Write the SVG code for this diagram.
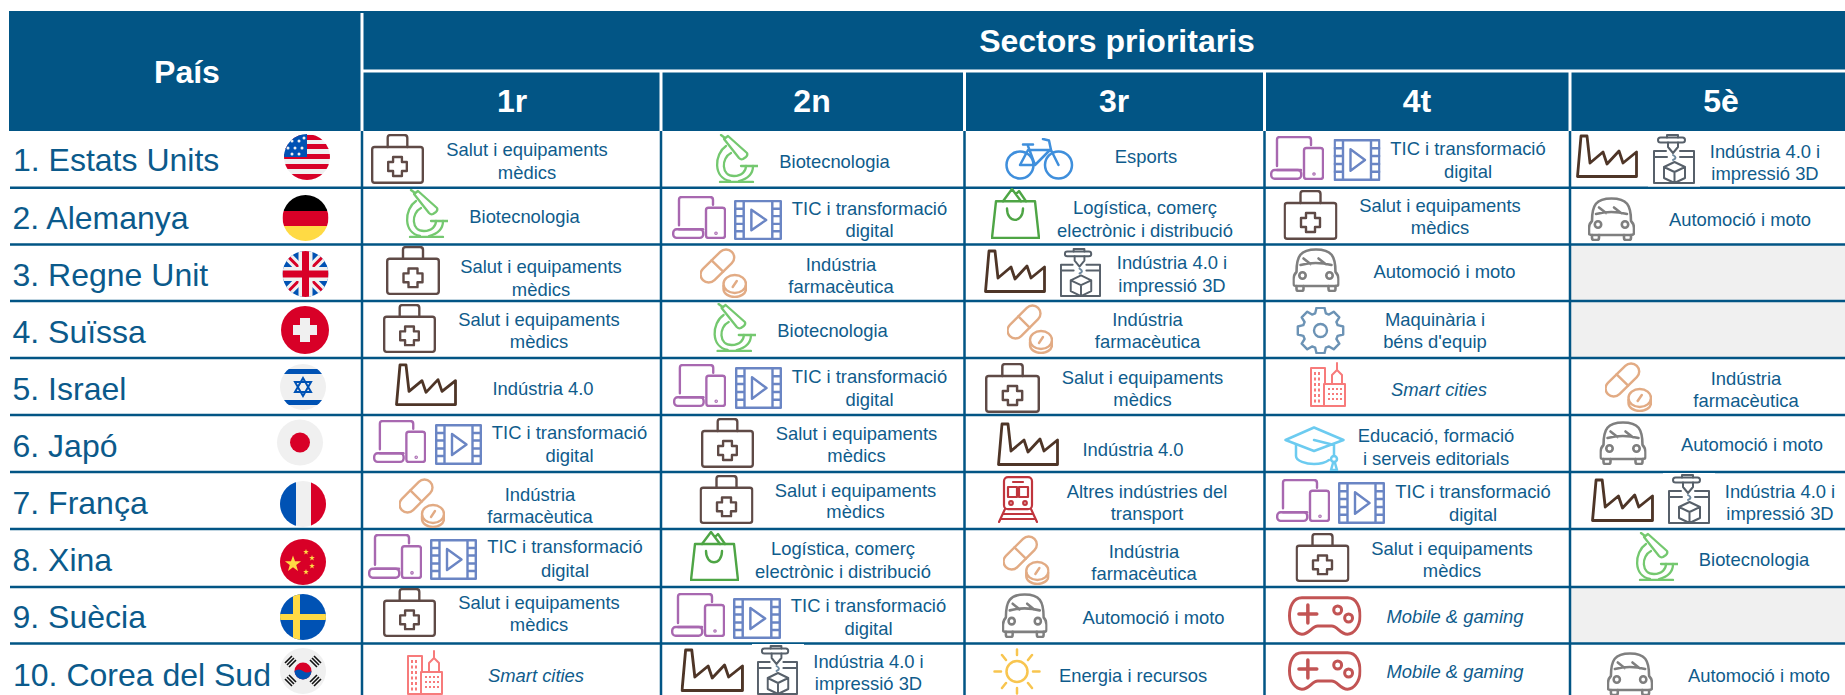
<svg xmlns="http://www.w3.org/2000/svg" width="1845" height="695" viewBox="0 0 1845 695">
<style>
text{font-family:"Liberation Sans",Arial,sans-serif}
.h{font-size:32px;font-weight:700;fill:#fff;text-anchor:middle}
.p{font-size:32px;fill:#0b5a8b}
.c{font-size:18.4px;fill:#0f5c8c;text-anchor:middle}
.i{font-style:italic}
.ic{fill:none;stroke-linecap:round;stroke-linejoin:round}
</style>
<defs>
<clipPath id="fc"><circle cx="0" cy="0" r="23"/></clipPath>
<polygon id="st" points="0,-10 2.4,-3.1 9.5,-3.1 3.8,1.2 5.9,8.1 0,3.8 -5.9,8.1 -3.8,1.2 -9.5,-3.1 -2.4,-3.1"/>
<symbol id="med" viewBox="0 0 54 50" preserveAspectRatio="none"><g class="ic" stroke="#5f4a46" stroke-width="2.4"><rect x="1.2" y="13" width="51.6" height="35.8" rx="2.5"/><path d="M17 13V4q0-3 3-3h14q3 0 3 3v9"/><path d="M22.5 23h9v5h5v9h-5v5h-9v-5h-5v-9h5z"/></g></symbol>
<symbol id="micro" viewBox="0 0 43 49" preserveAspectRatio="none"><g class="ic" stroke="#74c86f" stroke-width="2.3"><path d="M9 5L13 2 32 19Q33 21 31 23L28 25Q26 26 24 24Z"/><path d="M6 1L10 4"/><path d="M11 12C-1 20 -2 44 15 47"/><path d="M24 47C32 45 38 40 38 32"/><path d="M16 19C6 24 6 42 19 42C27 42 31 37 31 32"/><path d="M26 32H43M5 48H38"/></g></symbol>
<symbol id="dev" viewBox="0 0 54 44" preserveAspectRatio="none"><g class="ic" stroke="#a868b0" stroke-width="2.4"><path d="M7 30V4q0-3 3-3H38q3 0 3 3V9"/><rect x="1.200" y="34" width="30" height="8.800" rx="3.500"/><path d="M7 34H31"/><rect x="34" y="12" width="19" height="31" rx="2.500"/><circle cx="44" cy="38" r=".6"/></g></symbol>
<symbol id="film" viewBox="0 0 47 41" preserveAspectRatio="none"><g class="ic" stroke="#6a85c4" stroke-width="2.400"><rect x="1.200" y="1.200" width="44.600" height="38.600"/><path d="M9.500 1.200V39.800M37.500 1.200V39.800M1.200 9H9.500M1.200 16.500H9.500M1.200 24.500H9.500M1.200 32H9.500M37.500 9H45.800M37.500 16.500H45.800M37.500 24.500H45.800M37.500 32H45.800"/><path d="M17 10L31.500 20.500 17 31Z"/></g></symbol>
<symbol id="fac" viewBox="0 0 62 44" preserveAspectRatio="none"><path class="ic" stroke="#4e3527" stroke-width="2.800" d="M1.500 42.500L5 2H11L14 29 27 18 31 30 43 17 47 29 60.500 18V42.500Z"/></symbol>
<symbol id="prn" viewBox="0 0 42 50" preserveAspectRatio="none"><g class="ic" stroke="#57606a" stroke-width="2"><rect x="5" y="3.500" width="27" height="5" rx="2.500"/><path d="M14 3.500V1H25V3.500"/><path d="M15 8.500V13L20 19 25 13V8.500"/><path d="M13 17H1V49H41V17H27"/><path d="M1 23H14M27 23H41"/><path d="M20 21Q25 24 20 26" stroke="#6f8aa0"/><path d="M21.500 28L32 33V44L21.500 49 11 44V33ZM11 33L21.500 38 32 33M21.500 38V49"/></g></symbol>
<symbol id="pill" viewBox="0 0 46 50" preserveAspectRatio="none"><g class="ic" stroke="#e2ab84" stroke-width="2.400"><g transform="rotate(45 17 18)"><rect x="9" y="-2" width="16" height="40" rx="8"/><path d="M9 18H25"/></g><ellipse cx="34" cy="36" rx="11" ry="9"/><path d="M23 38V41C23 46 29 49 34 49S45 46 45 41V38"/><path d="M32 39L36 33"/></g></symbol>
<symbol id="bag" viewBox="0 0 49 50" preserveAspectRatio="none"><g class="ic" stroke="#4ea545" stroke-width="2.400"><path d="M5 13H44L48 49H1Z"/><path d="M12 13L21 1 30 13M25 6L28 3 35 13"/><path d="M16 20C16 35 32 35 32 20"/></g></symbol>
<symbol id="car" viewBox="0 0 47 44" preserveAspectRatio="none"><g class="ic" stroke="#7f7f7f" stroke-width="2.600"><path d="M4 24C4 8 8 1.500 23.500 1.500S43 8 43 24C45 26 46 28 46 31V36Q46 38 43 38H4Q1 38 1 36V31C1 28 2 26 4 24Z"/><path d="M8 17Q23 13 39 17M11 10.500L18 16M26 10.500L33 16"/><circle cx="10" cy="27.500" r="3.200"/><circle cx="37" cy="27.500" r="3.200"/><path d="M4 38V41q0 2 2 2h3q2 0 2-2V38M36 38V41q0 2 2 2h3q2 0 2-2V38"/></g></symbol>
<symbol id="bike" viewBox="0 0 69 42" preserveAspectRatio="none"><g class="ic" stroke="#3f8fdc" stroke-width="2.500"><circle cx="15" cy="27" r="13.500"/><circle cx="53.500" cy="27" r="13.500"/><path d="M15 27L23 12H45L30 27ZM23 8L30 27M38 1L44 2.500 46 12 53.500 27M18 6.500H28"/></g></symbol>
<symbol id="gear" viewBox="-25.500 -23.500 51 47" preserveAspectRatio="none"><g class="ic" stroke="#6c93b5" stroke-width="2.400"><path d="M17.200-5.300L22.700-4V4L17.200 5.300 15.900 8.500 18.800 13.200 13.200 18.800 8.500 15.900 5.300 17.200 4 22.700H-4L-5.300 17.200-8.500 15.900-13.200 18.800-18.800 13.200-15.900 8.500-17.200 5.300-22.700 4V-4L-17.200-5.300-15.900-8.500-18.800-13.200-13.200-18.800-8.500-15.900-5.300-17.200-4-22.700H4L5.300-17.200 8.500-15.900 13.200-18.800 18.800-13.200 15.900-8.500Z"/><circle r="6.500"/></g></symbol>
<symbol id="city" viewBox="0 0 36 45" preserveAspectRatio="none"><g class="ic" stroke="#f77b7b" stroke-width="2"><path d="M14 44H1V6H15V22"/><rect x="14" y="22" width="21" height="22"/><path d="M22 22V13L27 8 32 13V22M27 8V1"/><path stroke-dasharray="3 2.500" stroke-linecap="butt" d="M5 10V41M9 10V41"/><path stroke-dasharray="2 2" stroke-linecap="butt" d="M18 27H32M18 32H32M18 37H32"/></g></symbol>
<symbol id="cap" viewBox="0 0 61 45" preserveAspectRatio="none"><g class="ic" stroke="#6ccbf0" stroke-width="2.500"><path d="M1.500 14L30 1.500 59.500 14 30 25Z"/><path d="M12 19V30C12 35 22 38 30 38C36 38 41 37 45 34"/><path d="M30 14L50 19V30"/><circle cx="50" cy="33" r="3"/><path d="M49 37L47 44H53L51 37"/></g></symbol>
<symbol id="train" viewBox="0 0 40 47" preserveAspectRatio="none"><g class="ic" stroke="#c0353d" stroke-width="2.200"><rect x="6" y="1.200" width="28" height="32" rx="4"/><rect x="10" y="11" width="9" height="10"/><rect x="21" y="11" width="9" height="10"/><path d="M15 6H25"/><circle cx="13" cy="27" r="1.800"/><circle cx="27" cy="27" r="1.800"/><path d="M7 33L1 46M33 33L39 46M5 38H35M3 43H37"/></g></symbol>
<symbol id="pad" viewBox="0 0 74 40" preserveAspectRatio="none"><g class="ic" stroke="#c25454" stroke-width="3"><path d="M14 1.800H60C69 1.800 72.500 11 72.500 20C72.500 31 66 38.200 60 38.200C52 38.200 50 30 44 30H30C24 30 22 38.200 14 38.200C8 38.200 1.500 31 1.500 20C1.500 11 5 1.800 14 1.800Z"/><path d="M20 9V27M11 18H29" stroke-width="3.500"/><circle cx="50" cy="14" r="4"/><circle cx="61" cy="22" r="4"/></g></symbol>
<symbol id="sun" viewBox="0 0 48 47" preserveAspectRatio="none"><g class="ic" stroke="#f8c54f" stroke-width="2.500"><circle cx="24" cy="23.500" r="10.500"/><path d="M24 1.500V7M24 40V45.500M1.500 23.500H8M40 23.500H46.500M9 7L13 12M35 35L39 40M39 7L35 12M13 35L9 40"/></g></symbol>
</defs>
<g id="table-header">
<rect x="9" y="11" width="1836" height="120" fill="#025585"/>
<g stroke="#fff" fill="none"><path stroke-width="3" d="M362 13V131M362 71H1845M661 72V131M964.500 72V131M1264.500 72V131M1570 72V131"/></g>
<text class="h" x="187" y="83">País</text>
<text class="h" x="1117" y="52">Sectors prioritaris</text>
<text class="h" x="512" y="112">1r</text>
<text class="h" x="812" y="112">2n</text>
<text class="h" x="1114" y="112">3r</text>
<text class="h" x="1417" y="112">4t</text>
<text class="h" x="1721" y="112">5è</text>
</g>
<g id="empty-cells" fill="#f0f0f0">
<rect x="1571" y="245" width="274" height="113"/>
<rect x="1571" y="588" width="274" height="56"/>
</g>
<g id="grid" stroke="#025585" stroke-width="2.500" fill="none">
<path d="M10 187.700H1845M10 244.500H1845M10 301H1845M10 358H1845M10 415H1845M10 472H1845M10 529H1845M10 587H1845M10 643.500H1845"/>
<path d="M362 131V695M661 131V695M964.500 131V695M1264.500 131V695M1570 131V695"/>
</g>
<g id="patches" fill="#fff">
<rect x="1648" y="132" width="52" height="54.500"/>
<rect x="1663" y="473" width="52" height="54"/>
<rect x="752" y="644" width="52" height="51"/>
</g>
<g id="row-1">
<text class="p" x="13" y="170.500">1. Estats Units</text>
<g id="flag-us" transform="translate(307 157)"><g clip-path="url(#fc)"><rect x="-23" y="-23" width="46" height="46" fill="#f0f0f0"/><path fill="#d80027" d="M-23-22H23V-17H-23ZM-23-13H23V-8H-23ZM-23-3H23V2H-23ZM-23 7H23V12H-23ZM-23 17H23V23H-23Z"/><rect x="-23" y="-23" width="23" height="23" fill="#0052b4"/><g fill="#f0f0f0"><circle cx="-15" cy="-16" r="1.500"/><circle cx="-8" cy="-16" r="1.500"/><circle cx="-3" cy="-19" r="1.500"/><circle cx="-19" cy="-9" r="1.500"/><circle cx="-12" cy="-9" r="1.500"/><circle cx="-5" cy="-9" r="1.500"/><circle cx="-15" cy="-3" r="1.500"/><circle cx="-8" cy="-3" r="1.500"/></g></g></g>
<use href="#med" x="371" y="134" width="53" height="50"/><text class="c" x="527" y="156">Salut i equipaments</text><text class="c" x="527" y="178.500">mèdics</text>
<use href="#micro" x="715" y="134" width="43" height="49"/><text class="c" x="834.500" y="167.700">Biotecnologia</text>
<use href="#bike" x="1005" y="138" width="69" height="42"/><text class="c" x="1146" y="163">Esports</text>
<use href="#dev" x="1270" y="136" width="54" height="44"/><use href="#film" x="1333.500" y="139" width="47" height="42"/><text class="c" x="1468" y="155">TIC i transformació</text><text class="c" x="1468" y="178">digital</text>
<use href="#fac" x="1576" y="134" width="62" height="44"/><use href="#prn" x="1653" y="134" width="42" height="50"/><text class="c" x="1765" y="158">Indústria 4.0 i</text><text class="c" x="1765" y="180">impressió 3D</text>
</g>
<g id="row-2">
<text class="p" x="12.500" y="229">2. Alemanya</text>
<g id="flag-de" transform="translate(305.500 218)"><g clip-path="url(#fc)"><rect x="-23" y="-23" width="46" height="16" fill="#000"/><rect x="-23" y="-7" width="46" height="15" fill="#d80027"/><rect x="-23" y="8" width="46" height="15" fill="#ffda44"/></g></g>
<use href="#micro" x="405" y="189" width="43" height="49"/><text class="c" x="524.500" y="222.700">Biotecnologia</text>
<use href="#dev" x="672" y="196" width="54" height="43"/><use href="#film" x="734" y="200" width="48" height="40"/><text class="c" x="869.500" y="215">TIC i transformació</text><text class="c" x="869.500" y="237">digital</text>
<use href="#bag" x="991" y="188" width="49" height="51"/><text class="c" x="1145" y="214">Logística, comerç</text><text class="c" x="1145" y="237">electrònic i distribució</text>
<use href="#med" x="1283.500" y="190" width="54" height="50"/><text class="c" x="1440" y="212">Salut i equipaments</text><text class="c" x="1440" y="234">mèdics</text>
<use href="#car" x="1588" y="197" width="47" height="44"/><text class="c" x="1740" y="226">Automoció i moto</text>
</g>
<g id="row-3">
<text class="p" x="12.500" y="286">3. Regne Unit</text>
<g id="flag-uk" transform="translate(305.500 274)"><g clip-path="url(#fc)"><rect x="-23" y="-23" width="46" height="46" fill="#0052b4"/><path stroke="#f0f0f0" stroke-width="9" d="M-23-23L23 23M23-23L-23 23"/><path stroke="#d80027" stroke-width="3" d="M-23-23L23 23M23-23L-23 23"/><path stroke="#f0f0f0" stroke-width="14" d="M0-23V23M-23 0H23"/><path stroke="#d80027" stroke-width="7" d="M0-23V23M-23 0H23"/></g></g>
<use href="#med" x="386" y="246" width="54" height="49"/><text class="c" x="541" y="273">Salut i equipaments</text><text class="c" x="541" y="296">mèdics</text>
<use href="#pill" x="700" y="248" width="47" height="50"/><text class="c" x="841" y="271">Indústria</text><text class="c" x="841" y="293">farmacèutica</text>
<use href="#fac" x="984" y="249" width="62" height="44"/><use href="#prn" x="1060" y="248" width="41" height="49"/><text class="c" x="1172" y="269">Indústria 4.0 i</text><text class="c" x="1172" y="292">impressió 3D</text>
<use href="#car" x="1292.500" y="248" width="47" height="44"/><text class="c" x="1444.500" y="278">Automoció i moto</text>
</g>
<g id="row-4">
<text class="p" x="12.500" y="343">4. Suïssa</text>
<g id="flag-ch" transform="translate(305 330)"><circle r="24" fill="#d80027"/><path fill="#f0f0f0" d="M-5-12H5V-5H12V5H5V12H-5V5H-12V-5H-5Z"/></g>
<use href="#med" x="383" y="304" width="53" height="49"/><text class="c" x="539" y="326">Salut i equipaments</text><text class="c" x="539" y="348">mèdics</text>
<use href="#micro" x="712.500" y="303" width="43.500" height="49"/><text class="c" x="832.500" y="337">Biotecnologia</text>
<use href="#pill" x="1007" y="304" width="46" height="50"/><text class="c" x="1147.500" y="326">Indústria</text><text class="c" x="1147.500" y="348">farmacèutica</text>
<use href="#gear" x="1295" y="307" width="51" height="47"/><text class="c" x="1435" y="326">Maquinària i</text><text class="c" x="1435" y="348">béns d'equip</text>
</g>
<g id="row-5">
<text class="p" x="12.500" y="400">5. Israel</text>
<g id="flag-il" transform="translate(303 387)"><g clip-path="url(#fc)"><rect x="-23" y="-23" width="46" height="46" fill="#f0f0f0"/><rect x="-23" y="-18" width="46" height="5" fill="#0052b4"/><rect x="-23" y="13" width="46" height="5" fill="#0052b4"/><path fill="none" stroke="#0052b4" stroke-width="2" d="M0-9L8 5H-8ZM0 9L8-5H-8Z"/></g></g>
<use href="#fac" x="395" y="363" width="62" height="43"/><text class="c" x="543" y="395">Indústria 4.0</text>
<use href="#dev" x="673" y="364" width="53" height="43"/><use href="#film" x="735" y="367" width="47" height="42"/><text class="c" x="869.500" y="383">TIC i transformació</text><text class="c" x="869.500" y="406">digital</text>
<use href="#med" x="985" y="363" width="55" height="50"/><text class="c" x="1142.500" y="384">Salut i equipaments</text><text class="c" x="1142.500" y="406">mèdics</text>
<use href="#city" x="1310" y="362" width="36" height="45"/><text class="c i" x="1439" y="396">Smart cities</text>
<use href="#pill" x="1605" y="362" width="47" height="50"/><text class="c" x="1746" y="385">Indústria</text><text class="c" x="1746" y="407">farmacèutica</text>
</g>
<g id="row-6">
<text class="p" x="12.500" y="457">6. Japó</text>
<g id="flag-jp" transform="translate(300 442.500)"><circle r="23" fill="#f0f0f0"/><circle r="10" fill="#d80027"/></g>
<use href="#dev" x="373" y="420" width="53" height="43"/><use href="#film" x="435" y="424" width="47" height="41"/><text class="c" x="569.500" y="439">TIC i transformació</text><text class="c" x="569.500" y="462">digital</text>
<use href="#med" x="701" y="418" width="53" height="50"/><text class="c" x="856.500" y="440">Salut i equipaments</text><text class="c" x="856.500" y="462">mèdics</text>
<use href="#fac" x="997" y="422" width="62" height="44"/><text class="c" x="1133" y="456">Indústria 4.0</text>
<use href="#cap" x="1284" y="426" width="61" height="45"/><text class="c" x="1436" y="442">Educació, formació</text><text class="c" x="1436" y="465">i serveis editorials</text>
<use href="#car" x="1599.500" y="421" width="47" height="44"/><text class="c" x="1752" y="451">Automoció i moto</text>
</g>
<g id="row-7">
<text class="p" x="12.500" y="514">7. França</text>
<g id="flag-fr" transform="translate(303 504)"><g clip-path="url(#fc)"><rect x="-23" y="-23" width="16" height="46" fill="#0052b4"/><rect x="-7" y="-23" width="15" height="46" fill="#f0f0f0"/><rect x="8" y="-23" width="15" height="46" fill="#d80027"/></g></g>
<use href="#pill" x="399" y="478" width="46" height="50"/><text class="c" x="540" y="501">Indústria</text><text class="c" x="540" y="523">farmacèutica</text>
<use href="#med" x="699.500" y="475" width="54" height="49"/><text class="c" x="855.500" y="497">Salut i equipaments</text><text class="c" x="855.500" y="518">mèdics</text>
<use href="#train" x="998" y="476" width="40" height="47"/><text class="c" x="1147" y="498">Altres indústries del</text><text class="c" x="1147" y="520">transport</text>
<use href="#dev" x="1276" y="479" width="54" height="43"/><use href="#film" x="1338" y="482" width="47" height="42"/><text class="c" x="1473" y="498">TIC i transformació</text><text class="c" x="1473" y="521">digital</text>
<use href="#fac" x="1591" y="478" width="63" height="44"/><use href="#prn" x="1668" y="474" width="42" height="50"/><text class="c" x="1780" y="498">Indústria 4.0 i</text><text class="c" x="1780" y="520">impressió 3D</text>
</g>
<g id="row-8">
<text class="p" x="12.500" y="571">8. Xina</text>
<g id="flag-cn" transform="translate(303 562)"><g clip-path="url(#fc)"><rect x="-23" y="-23" width="46" height="46" fill="#d80027"/><g fill="#ffda44"><use href="#st" transform="translate(-10 2) scale(.85)"/><use href="#st" transform="translate(3 -10) scale(.3)"/><use href="#st" transform="translate(9 -4) scale(.3)"/><use href="#st" transform="translate(9 4) scale(.3)"/><use href="#st" transform="translate(3 10) scale(.3)"/></g></g></g>
<use href="#dev" x="368" y="534" width="54" height="45"/><use href="#film" x="430" y="539" width="47" height="41"/><text class="c" x="565" y="553">TIC i transformació</text><text class="c" x="565" y="577">digital</text>
<use href="#bag" x="690" y="531" width="49" height="50"/><text class="c" x="843" y="555">Logística, comerç</text><text class="c" x="843" y="578">electrònic i distribució</text>
<use href="#pill" x="1003" y="535" width="46.500" height="50"/><text class="c" x="1144" y="558">Indústria</text><text class="c" x="1144" y="580">farmacèutica</text>
<use href="#med" x="1295.500" y="533" width="54" height="49"/><text class="c" x="1452" y="555">Salut i equipaments</text><text class="c" x="1452" y="577">mèdics</text>
<use href="#micro" x="1635" y="532" width="43" height="49"/><text class="c" x="1754" y="566">Biotecnologia</text>
</g>
<g id="row-9">
<text class="p" x="12.500" y="628">9. Suècia</text>
<g id="flag-se" transform="translate(303 617)"><g clip-path="url(#fc)"><rect x="-23" y="-23" width="46" height="46" fill="#0052b4"/><rect x="-10" y="-23" width="7" height="46" fill="#ffda44"/><rect x="-23" y="-3" width="46" height="6" fill="#ffda44"/></g></g>
<use href="#med" x="383" y="588" width="53" height="49"/><text class="c" x="539" y="609">Salut i equipaments</text><text class="c" x="539" y="631">mèdics</text>
<use href="#dev" x="671" y="593" width="54" height="44"/><use href="#film" x="733" y="598" width="48" height="41"/><text class="c" x="868.500" y="612">TIC i transformació</text><text class="c" x="868.500" y="635">digital</text>
<use href="#car" x="1002" y="593" width="45.500" height="45"/><text class="c" x="1153.500" y="624">Automoció i moto</text>
<use href="#pad" x="1288" y="596" width="73.500" height="40"/><text class="c i" x="1455" y="623">Mobile &amp; gaming</text>
</g>
<g id="row-10">
<text class="p" x="13" y="685.500">10. Corea del Sud</text>
<g id="flag-kr" transform="translate(303 671)"><circle r="23" fill="#f0f0f0"/><circle r="8.500" fill="#d80027"/><path fill="#0052b4" d="M-8.500 0A8.500 8.500 0 0 0 8.500 0Q4 3 0 0T-8.500 0Z"/><g fill="none" stroke="#111" stroke-width="1.600"><path d="M-18-8L-11-15M-16-6L-9-13M-14-4L-7-11"/><path d="M18-8L11-15M16-6L9-13M14-4L7-11"/><path d="M-18 8L-11 15M-16 6L-9 13M-14 4L-7 11"/><path d="M18 8L11 15M16 6L9 13M14 4L7 11"/></g></g>
<use href="#city" x="407" y="650" width="36" height="45"/><text class="c i" x="536" y="682">Smart cities</text>
<use href="#fac" x="680.500" y="648" width="63.500" height="44"/><use href="#prn" x="757" y="645" width="41" height="50"/><text class="c" x="868.500" y="668">Indústria 4.0 i</text><text class="c" x="868.500" y="690">impressió 3D</text>
<use href="#sun" x="993" y="648" width="48" height="47"/><text class="c" x="1133" y="682">Energia i recursos</text>
<use href="#pad" x="1288" y="651" width="73.500" height="40"/><text class="c i" x="1455" y="678">Mobile &amp; gaming</text>
<use href="#car" x="1607" y="652" width="46" height="44"/><text class="c" x="1759" y="682">Automoció i moto</text>
</g>
</svg>
